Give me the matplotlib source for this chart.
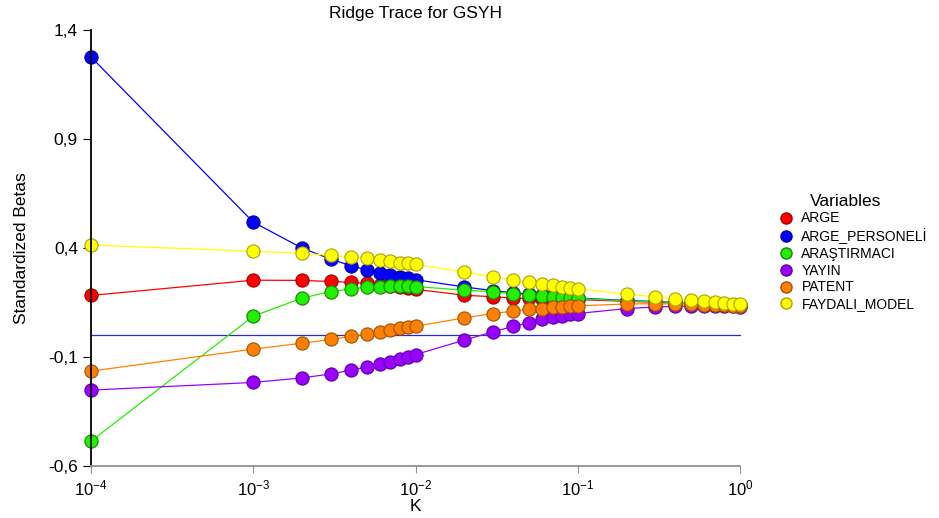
import numpy as np
import matplotlib
matplotlib.use('Agg')
import matplotlib.pyplot as plt
from matplotlib.lines import Line2D
from matplotlib.ticker import FixedLocator, NullLocator, FuncFormatter

plt.rcParams['font.family'] = ['Liberation Sans', 'DejaVu Sans']
plt.rcParams['mathtext.fontset'] = 'custom'
plt.rcParams['mathtext.rm'] = 'Liberation Sans'
plt.rcParams['mathtext.it'] = 'Liberation Sans'
plt.rcParams['mathtext.default'] = 'regular'

# K values (ridge parameter)
k_values = [0.0001,
            0.001, 0.002, 0.003, 0.004, 0.005, 0.006, 0.007, 0.008, 0.009, 0.01,
            0.02, 0.03, 0.04, 0.05, 0.06, 0.07, 0.08, 0.09, 0.1,
            0.2, 0.3, 0.4, 0.5, 0.6, 0.7, 0.8, 0.9, 1.0]

arge = [0.183,
        0.253, 0.252, 0.247, 0.243, 0.238, 0.232, 0.228, 0.223, 0.219, 0.211,
        0.184, 0.177, 0.171, 0.169, 0.167, 0.166, 0.165, 0.165, 0.164,
        0.156, 0.152, 0.150, 0.148, 0.146, 0.144, 0.142, 0.140, 0.138]
arge_personeli = [1.276,
                  0.519, 0.400, 0.350, 0.319, 0.300, 0.287, 0.275, 0.267, 0.261, 0.255,
                  0.222, 0.205, 0.195, 0.188, 0.183, 0.179, 0.176, 0.173, 0.171,
                  0.160, 0.155, 0.151, 0.148, 0.146, 0.144, 0.142, 0.140, 0.138]
arastirmaci = [-0.485,
               0.088, 0.171, 0.201, 0.213, 0.221, 0.224, 0.226, 0.227, 0.227, 0.224,
               0.207, 0.200, 0.190, 0.184, 0.180, 0.177, 0.174, 0.172, 0.169,
               0.158, 0.154, 0.151, 0.148, 0.146, 0.144, 0.142, 0.140, 0.138]
yayin = [-0.251,
         -0.216, -0.195, -0.177, -0.160, -0.145, -0.132, -0.120, -0.108, -0.097, -0.088,
         -0.022, 0.016, 0.041, 0.057, 0.073, 0.082, 0.089, 0.096, 0.100,
         0.123, 0.130, 0.133, 0.134, 0.134, 0.134, 0.133, 0.133, 0.132]
patent = [-0.164,
          -0.063, -0.036, -0.019, -0.005, 0.006, 0.015, 0.024, 0.032, 0.038, 0.042,
          0.080, 0.100, 0.111, 0.119, 0.123, 0.128, 0.131, 0.134, 0.135,
          0.144, 0.145, 0.144, 0.142, 0.140, 0.139, 0.137, 0.136, 0.135]
faydali_model = [0.414,
                 0.386, 0.376, 0.367, 0.359, 0.353, 0.345, 0.339, 0.334, 0.330, 0.325,
                 0.290, 0.268, 0.255, 0.244, 0.236, 0.229, 0.222, 0.218, 0.213,
                 0.189, 0.177, 0.167, 0.161, 0.157, 0.152, 0.149, 0.145, 0.142]

series = [
    ('ARGE', arge, '#ff0000', '#a00000'),
    ('ARGE_PERSONELİ', arge_personeli, '#0000ff', '#0000a0'),
    ('ARAŞTIRMACI', arastirmaci, '#22ee00', '#118800'),
    ('YAYIN', yayin, '#9900ff', '#6000a0'),
    ('PATENT', patent, '#ff8000', '#a05000'),
    ('FAYDALI_MODEL', faydali_model, '#ffff00', '#b0a000'),
]

fig = plt.figure(figsize=(9.39, 5.18), dpi=100)
ax = fig.add_axes([0.097, 0.100, 0.691, 0.842])

# zero reference line
ax.plot([k_values[0], k_values[-1]], [0, 0], color='#2a2acc', lw=0.9, zorder=1)

handles = []
for name, vals, col, edge in series:
    ax.plot(k_values, vals, color=col, lw=0.9, marker='o', markersize=9.5,
            markerfacecolor=col, markeredgecolor=edge, markeredgewidth=0.8, zorder=2)
    handles.append(Line2D([], [], ls='none', marker='o', markersize=8,
                          markerfacecolor=col, markeredgecolor=edge, label=name))

ax.set_xscale('log')
ax.set_xlim(1e-4, 1.0)
ax.set_ylim(-0.6, 1.4)
ax.xaxis.set_major_locator(FixedLocator([1e-4, 1e-3, 1e-2, 1e-1, 1e0]))
ax.xaxis.set_minor_locator(NullLocator())
ax.xaxis.set_major_formatter(FuncFormatter(lambda v, p: r'$10^{%d}$' % round(np.log10(v))))
yt = [-0.6, -0.1, 0.4, 0.9, 1.4]
ax.yaxis.set_major_locator(FixedLocator(yt))
ax.yaxis.set_major_formatter(FuncFormatter(lambda v, p: f'{v:.1f}'.replace('.', ',')))

for s in ['top', 'right']:
    ax.spines[s].set_visible(False)
ax.spines['left'].set_color('black')
ax.spines['left'].set_linewidth(1.3)
ax.spines['bottom'].set_color('#909090')
ax.spines['bottom'].set_linewidth(1.3)
ax.tick_params(axis='y', direction='out', length=6, color='black', labelsize=12.5)
ax.tick_params(axis='x', direction='out', length=5, color='#909090', labelsize=12)
for m in ax.lines:
    m.set_clip_on(False)

ax.set_title('Ridge Trace for GSYH', fontsize=12.5, pad=9)
ax.set_xlabel('K', fontsize=12.5, labelpad=1)
ax.set_ylabel('Standardized Betas', fontsize=12.5, labelpad=14)

leg = fig.legend(handles=handles, title='Variables', loc='upper left',
                 bbox_to_anchor=(0.818, 0.645), frameon=False, fontsize=10,
                 title_fontsize=12.5, handletextpad=0.5, labelspacing=0.2,
                 handlelength=1.2, borderpad=0.2)
leg._legend_box.align = 'left'
leg.get_title().set_position((32, 0))

fig.savefig('out.png', dpi=100)
